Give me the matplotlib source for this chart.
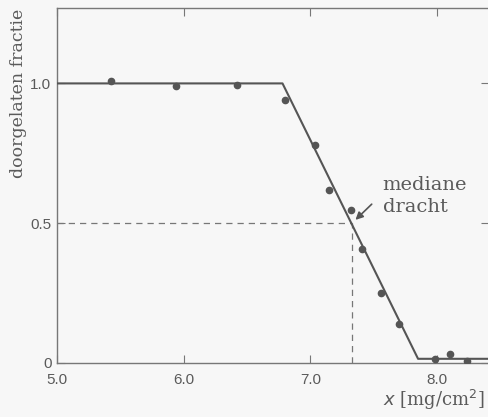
import matplotlib
matplotlib.use("Agg")
import matplotlib.pyplot as plt

# measured points
x_pts = [5.43, 5.94, 6.42, 6.80, 7.04, 7.15, 7.32, 7.41, 7.56, 7.70, 7.98, 8.10, 8.24]
y_pts = [1.007, 0.989, 0.993, 0.939, 0.778, 0.62, 0.548, 0.409, 0.25, 0.14, 0.014, 0.032, 0.007]

# fitted trapezoid line
x_fit = [5.0, 6.78, 7.85, 8.45]
y_fit = [1.0, 1.0, 0.015, 0.015]

x_med = 7.33
y_med = 0.5

xticks = [5.0, 6.0, 7.0, 8.0]
xticklabels = ['5.0', '6.0', '7.0', '8.0']
yticks = [0, 0.5, 1.0]
yticklabels = ['0', '0.5', '1.0']

grey = '#5a5a5a'
fig = plt.figure(figsize=(4.89, 4.17), dpi=100, facecolor='#f7f7f7')
ax = fig.add_axes([0.1166, 0.1295, 0.8834, 0.8515])
ax.set_facecolor('#f7f7f7')

ax.plot(x_fit, y_fit, color='#555555', lw=1.5, zorder=3)
ax.plot(x_pts, y_pts, 'o', color='#555555', ms=4.5, zorder=4)

ax.plot([5.0, x_med], [y_med, y_med], color='#777777', lw=0.9, ls=(0, (5, 4)))
ax.plot([x_med, x_med], [0, y_med], color='#777777', lw=0.9, ls=(0, (5, 4)))

ax.annotate('', xy=(x_med + 0.01, y_med + 0.005), xytext=(7.50, 0.575),
            arrowprops=dict(arrowstyle='-|>', color='#555555', lw=1.2, mutation_scale=11))
ax.text(7.57, 0.598, 'mediane\ndracht', family='DejaVu Serif', fontsize=14,
        color=grey, va='center', ha='left', linespacing=1.3)

ax.set_xlim(5.0, 8.41)
ax.set_ylim(0, 1.27)

ax.set_xticks(xticks)
ax.set_xticklabels(xticklabels)
ax.set_yticks(yticks)
ax.set_yticklabels(yticklabels)
ax.tick_params(direction='in', top=True, right=True, length=6, color='#777777',
               labelsize=11, labelcolor=grey, pad=4)
ax.tick_params(axis='x', pad=7)
for lab in ax.get_xticklabels() + ax.get_yticklabels():
    lab.set_family(['Liberation Sans Narrow', 'Liberation Sans', 'DejaVu Sans'])
for s in ax.spines.values():
    s.set_color('#777777')
    s.set_linewidth(1.0)

fig.text(0.037, 0.978, 'doorgelaten fractie', rotation=90, family='DejaVu Serif',
         fontsize=12.5, color=grey, va='top', ha='center')
fig.text(0.783, 0.04, r'$x$ [mg/cm$^2$]', family='DejaVu Serif', fontsize=13,
         color=grey, va='center', ha='left')

fig.savefig('out.png', dpi=100, facecolor=fig.get_facecolor())
